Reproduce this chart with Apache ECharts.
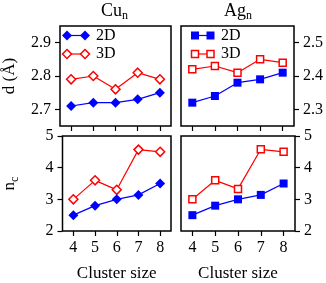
<!DOCTYPE html>
<html><head><meta charset="utf-8">
<script src="https://cdn.jsdelivr.net/npm/echarts@6/dist/echarts.min.js"></script>
<style>html,body{margin:0;padding:0;background:#fff}#c{width:326px;height:283px}</style>
</head><body><div id="c"></div>
<script>
var categories = ['4','5','6','7','8'];
var cuD2D = [2.71, 2.72, 2.72, 2.73, 2.75];
var cuD3D = [2.79, 2.80, 2.76, 2.81, 2.79];
var agD2D = [2.32, 2.34, 2.38, 2.39, 2.41];
var agD3D = [2.42, 2.43, 2.41, 2.45, 2.44];
var cuNc2D = [2.5, 2.8, 3.0, 3.14, 3.5];
var cuNc3D = [3.0, 3.6, 3.3, 4.57, 4.5];
var agNc2D = [2.5, 2.8, 3.0, 3.14, 3.5];
var agNc3D = [3.0, 3.6, 3.33, 4.58, 4.5];
var cuDTicks = [2.7, 2.8, 2.9];
var agDTicks = [2.3, 2.4, 2.5];
var ncTicks = [2, 3, 4, 5];
var legendNames = ['2D', '3D'];
var xTitle = 'Cluster size';

var FONT = '"Liberation Serif", "DejaVu Serif", serif';
var BLUE = '#0000ff', RED = '#ff0000';
var chart = echarts.init(document.getElementById('c'));

var grids = [
  {left: 58, top: 26, width: 113, height: 100},
  {left: 181, top: 26, width: 114, height: 100},
  {left: 58, top: 136, width: 113, height: 99},
  {left: 181, top: 136, width: 114, height: 99}
].map(function(g){ return Object.assign({show: true, borderColor: '#000', borderWidth: 1.5, backgroundColor: 'transparent'}, g); });

var tickStyle = {show: true, inside: false, length: 5, lineStyle: {color: '#000', width: 1.2}};
function xAxis(i, labels) {
  return {type: 'category', gridIndex: i, data: categories, boundaryGap: true,
    axisLine: {show: false}, splitLine: {show: false},
    axisTick: Object.assign({alignWithLabel: true}, tickStyle),
    axisLabel: {show: labels, margin: 9, color: '#000', fontFamily: FONT, fontSize: 16},
    name: labels ? xTitle : '', nameLocation: 'middle', nameGap: 34,
    nameTextStyle: {color: '#000', fontFamily: FONT, fontSize: 17}};
}
function yAxis(i, min, max, ticks, pos, name) {
  return {type: 'value', gridIndex: i, min: min, max: max, position: pos,
    axisLine: {show: false}, splitLine: {show: false},
    axisTick: Object.assign({customValues: ticks}, tickStyle),
    axisLabel: {customValues: ticks, margin: 9, color: '#000', fontFamily: FONT, fontSize: 16},
    name: name || '', nameLocation: 'middle', nameGap: 42, nameRotate: 90,
    nameTextStyle: {color: '#000', fontFamily: FONT, fontSize: 17,
      rich: {m: {fontFamily: FONT, fontSize: 17, lineHeight: 22, color: '#000'},
             s: {fontFamily: FONT, fontSize: 12, lineHeight: 10, verticalAlign: 'bottom', color: '#000'}}}};
}

function series(i, data, color, symbol, size, hollow) {
  return {type: 'line', xAxisIndex: i, yAxisIndex: i, data: data, symbol: symbol, symbolSize: size,
    lineStyle: {color: color, width: 1.2},
    itemStyle: hollow ? {color: '#fff', borderColor: color, borderWidth: 1.5} : {color: color, borderWidth: 0},
    z: hollow ? 3 : 4, animation: false};
}

// legend glyphs (layout only)
var graphics = [];
function legendRow(x1, x2, xt, y, color, shape, size, hollow, label) {
  graphics.push({type: 'line', shape: {x1: x1, y1: y, x2: x2, y2: y}, style: {stroke: color, lineWidth: 1.2}});
  [x1, x2].forEach(function(x){
    var st = hollow ? {fill: '#fff', stroke: color, lineWidth: 1.5} : {fill: color};
    if (shape === 'diamond') {
      var h = size / 2;
      graphics.push({type: 'polygon', shape: {points: [[x, y - h], [x + h, y], [x, y + h], [x - h, y]]}, style: st});
    } else {
      graphics.push({type: 'rect', shape: {x: x - size/2, y: y - size/2, width: size, height: size}, style: st});
    }
  });
  graphics.push({type: 'text', x: xt, y: y, style: {text: label, font: '16px ' + FONT, fill: '#000', verticalAlign: 'middle', textAlign: 'left'}});
}
legendRow(67, 85, 96, 35.5, BLUE, 'diamond', 10, false, legendNames[0]);
legendRow(67, 85, 96, 54, RED, 'diamond', 9, true, legendNames[1]);
legendRow(195, 210.5, 221, 35.5, BLUE, 'rect', 8, false, legendNames[0]);
legendRow(195, 210.5, 221, 54, RED, 'rect', 7, true, legendNames[1]);

function titleText(x, a, b) {
  graphics.push({type: 'text', x: x, y: 11, style: {text: '{a|' + a + '}{b|' + b + '}', textAlign: 'center', verticalAlign: 'middle',
    rich: {a: {fontFamily: FONT, fontSize: 18, lineHeight: 22, fill: '#000'},
           b: {fontFamily: FONT, fontSize: 12, lineHeight: 10, verticalAlign: 'bottom', fill: '#000'}}}});
}
titleText(114.5, 'Cu', 'n');
titleText(238, 'Ag', 'n');

chart.setOption({
  animation: false,
  grid: grids,
  xAxis: [xAxis(0, false), xAxis(1, false), xAxis(2, true), xAxis(3, true)],
  yAxis: [yAxis(0, 2.65, 2.95, cuDTicks, 'left', 'd (Å)'),
          yAxis(1, 2.25, 2.55, agDTicks, 'right'),
          yAxis(2, 2, 5, ncTicks, 'left', '{m|n}{s|c}'),
          yAxis(3, 2, 5, ncTicks, 'right')],
  series: [
    series(0, cuD2D, BLUE, 'diamond', 10, false), series(0, cuD3D, RED, 'diamond', 9, true),
    series(1, agD2D, BLUE, 'rect', 8, false), series(1, agD3D, RED, 'rect', 7, true),
    series(2, cuNc2D, BLUE, 'diamond', 10, false), series(2, cuNc3D, RED, 'diamond', 9, true),
    series(3, agNc2D, BLUE, 'rect', 8, false), series(3, agNc3D, RED, 'rect', 7, true)
  ],
  graphic: graphics
});
</script></body></html>
